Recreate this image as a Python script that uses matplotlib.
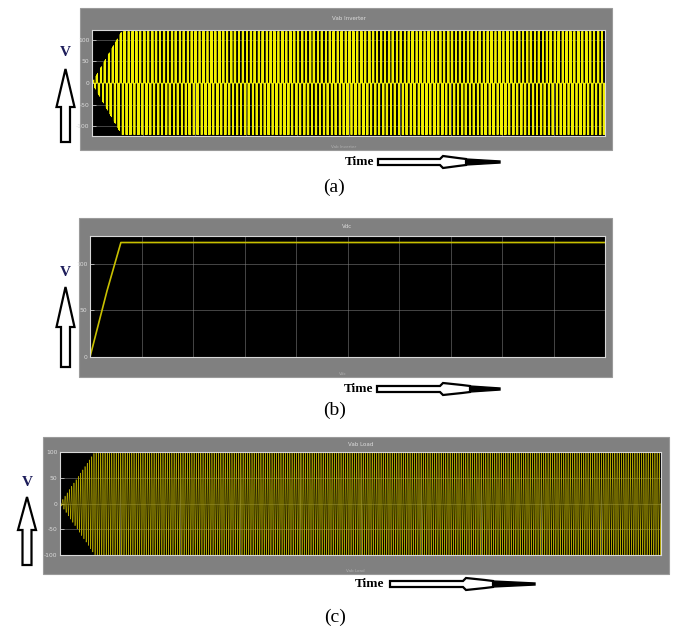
import numpy as np
import matplotlib
matplotlib.use("Agg")
import matplotlib.pyplot as plt
from matplotlib.patches import Rectangle, Polygon

W, H = 678, 631

# --- data (time normalised to the window, 10 divisions) ---
x_divisions = np.linspace(0, 1, 11)

vdc_time = [0.0, 0.033, 0.060, 1.0]
vdc_volts = [0, 71, 123, 123]

inv_env_time = [0.0, 0.058, 1.0]
inv_env_volts = [0, 120, 120]

load_env_time = [0.0, 0.058, 1.0]
load_env_volts = [0, 100, 100]

inv_ticks = [-100, -50, 0, 50, 100]
vdc_ticks = [0, 50, 100]
load_ticks = [-100, -50, 0, 50, 100]

inv_cycles = 130      # fundamental cycles seen in the inverter window
carrier_ratio = 4.7   # carrier / fundamental
mod_index = 0.85
load_cycles = 270     # cycles seen in the load window

t = np.linspace(0, 1, 400001)
ref = mod_index * np.sin(2 * np.pi * inv_cycles * t)
carrier = 2 * np.abs(2 * ((inv_cycles * carrier_ratio * t) % 1) - 1) - 1
leg_a = (ref > carrier).astype(float)
leg_b = (-ref > carrier).astype(float)
v_inverter = np.interp(t, inv_env_time, inv_env_volts) * (leg_a - leg_b)
v_load = np.interp(t, load_env_time, load_env_volts) * np.sin(2 * np.pi * load_cycles * t)


def fig_rect(x0, y0, x1, y1):
    return [x0 / W, 1 - y1 / H, (x1 - x0) / W, (y1 - y0) / H]


def fig_pt(x, y):
    return (x / W, 1 - y / H)


def scope(fig, frame, box, title, ylim, ticks):
    fx0, fy0, fx1, fy1 = frame
    fig.patches.append(Rectangle(fig_pt(fx0, fy1), (fx1 - fx0) / W, (fy1 - fy0) / H,
                                 transform=fig.transFigure, facecolor="#808080",
                                 edgecolor="#9a9a9a", lw=0.8, zorder=-5))
    ax = fig.add_axes(fig_rect(*box))
    ax.set_zorder(2)
    ax.set_facecolor("black")
    ax.set_xlim(0, 1)
    ax.set_ylim(*ylim)
    ax.set_yticks(ticks)
    ax.set_yticklabels([str(v) for v in ticks])
    ax.set_xticks(x_divisions)
    ax.set_xticklabels([])
    ax.tick_params(axis="y", colors="#dcdcdc", labelsize=4.3, length=3, width=0.5,
                   direction="in", pad=2)
    ax.tick_params(axis="x", length=0)
    ax.grid(True, color="#8a8a8a", lw=0.5, alpha=0.7)
    for s in ax.spines.values():
        s.set_color("#d8d8d8")
        s.set_linewidth(0.8)
    cx = (box[0] + box[2]) / 2
    fig.text(*fig_pt(cx, (fy0 + box[1]) / 2), title, color="#dcdcdc", fontsize=4,
             ha="center", va="center")
    fig.text(*fig_pt(cx - 5, fy1 - 3), title, color="#b0b0b0", fontsize=3,
             ha="center", va="center")
    return ax


def up_arrow(fig, cx, tip, base, bottom, half_head, half_body):
    pts = [(cx, tip), (cx + half_head, base), (cx + half_body, base),
           (cx + half_body, bottom), (cx - half_body, bottom),
           (cx - half_body, base), (cx - half_head, base)]
    fig.patches.append(Polygon([fig_pt(*p) for p in pts], closed=True,
                               transform=fig.transFigure, facecolor="white",
                               edgecolor="black", lw=1.6))


def time_arrow(fig, x0, y, b0, b1, x1):
    pts = [(x0, y - 3), (b0, y - 3), (b0 + 3, y - 6), (b1, y - 4), (b1 + 8, y - 3),
           (b1 + 8, y + 3), (b1, y + 4), (b0 + 3, y + 6), (b0, y + 3), (x0, y + 3)]
    fig.patches.append(Polygon([fig_pt(*p) for p in pts], closed=True,
                               transform=fig.transFigure, facecolor="white",
                               edgecolor="black", lw=1.6))
    tip = [(b1 + 8, y - 3), (x1, y - 1), (x1, y + 1), (b1 + 8, y + 3)]
    fig.patches.append(Polygon([fig_pt(*p) for p in tip], closed=True,
                               transform=fig.transFigure, facecolor="black",
                               edgecolor="black", lw=1.0))


fig = plt.figure(figsize=(W / 100, H / 100), dpi=100)
serif = "Liberation Serif"

# (a) inverter line voltage
ax_a = scope(fig, (80, 8, 612, 150), (92, 30, 605, 136), "Vab Inverter",
             (-123, 123), inv_ticks)
ax_a.plot(t, v_inverter, color="#f2f000", lw=0.35)

# (b) dc link voltage
ax_b = scope(fig, (79, 218, 612, 377), (90, 236, 605, 357), "Vdc",
             (0, 130), vdc_ticks)
ax_b.plot(vdc_time, vdc_volts, color="#c8c000", lw=1.2)

# (c) load voltage
ax_c = scope(fig, (43, 437, 669, 574), (60, 452, 661, 555), "Vab Load",
             (-100, 100), load_ticks)
ax_c.plot(t, v_load, color="#b0a400", lw=0.45)

# axis annotations
for cx, vy, tip, base, bottom in [(65.5, 53, 69, 107, 142), (65.5, 272, 287, 327, 367),
                                  (27, 482, 497, 530, 565)]:
    fig.text(*fig_pt(cx, vy), "V", family=serif, fontweight="bold", fontsize=11,
             color="#1c1c5a", ha="center", va="center")
    up_arrow(fig, cx, tip, base, bottom, 9, 4.5)

for tx, ty, x0, b0, b1, x1 in [(360, 162, 378, 440, 458, 500), (359, 389, 377, 440, 462, 500),
                               (370, 584, 390, 463, 485, 535)]:
    fig.text(*fig_pt(tx, ty), "Time", family=serif, fontweight="bold", fontsize=9.5,
             color="black", ha="center", va="center")
    time_arrow(fig, x0, ty, b0, b1, x1)

for lbl, lx, ly in [("(a)", 334, 187), ("(b)", 335, 410), ("(c)", 335, 617)]:
    fig.text(*fig_pt(lx, ly), lbl, family=serif, fontsize=14, ha="center", va="center")

fig.savefig("out.png", dpi=100, facecolor="white")
